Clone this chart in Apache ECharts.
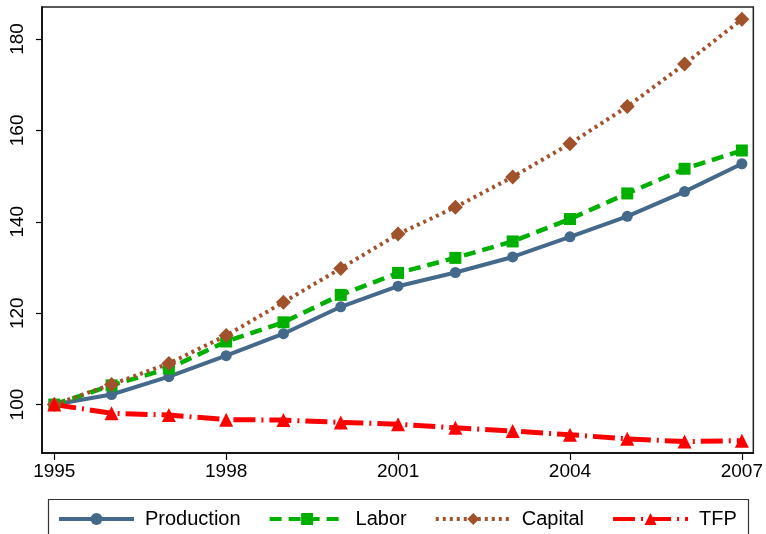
<!DOCTYPE html>
<html>
<head>
<meta charset="utf-8">
<script src="https://cdn.jsdelivr.net/npm/echarts@6/dist/echarts.min.js"></script>
<style>
  html, body { margin: 0; padding: 0; background: #fff; }
  #chart { width: 766px; height: 534px; }
</style>
</head>
<body>
<div id="chart"></div>
<script>
const years = [1995, 1996, 1997, 1998, 1999, 2000, 2001, 2002, 2003, 2004, 2005, 2006, 2007];
const production = [100, 102.2, 106.1, 110.7, 115.5, 121.4, 125.9, 128.9, 132.3, 136.7, 141.2, 146.6, 152.7];
const labor = [100, 104.2, 107.9, 113.8, 118.0, 124.0, 128.8, 132.1, 135.7, 140.6, 146.2, 151.6, 155.6];
const capital = [100, 104.4, 109.0, 115.1, 122.4, 129.8, 137.3, 143.2, 149.8, 157.1, 165.2, 174.5, 184.3];
const tfp = [100, 98.1, 97.7, 96.7, 96.6, 96.1, 95.7, 94.9, 94.2, 93.4, 92.5, 91.9, 92.1];
const xTicks = [1995, 1998, 2001, 2004, 2007];
const yTicks = [100, 120, 140, 160, 180];

const font = '"Liberation Sans", Arial, sans-serif';
const pairs = vals => years.map((y, i) => [y, vals[i]]);

const chart = echarts.init(document.getElementById('chart'));

const series = [
    {
        name: 'Production',
        data: pairs(production),
        color: '#44698a',
        lineStyle: { width: 4, type: 'solid' },
        symbol: 'circle',
        symbolSize: 11
    },
    {
        name: 'Labor',
        data: pairs(labor),
        color: '#00b000',
        lineStyle: { width: 4.5, type: [12, 7] },
        symbol: 'rect',
        symbolSize: 12
    },
    {
        name: 'Capital',
        data: pairs(capital),
        color: '#a0522d',
        lineStyle: { width: 4, type: [3, 4] },
        symbol: 'diamond',
        symbolSize: 15
    },
    {
        name: 'TFP',
        data: pairs(tfp),
        color: '#ff0000',
        lineStyle: { width: 5, type: [22, 6, 2, 6] },
        symbol: 'triangle',
        symbolSize: 14
    }
].map(s => ({
    type: 'line',
    showSymbol: true,
    animation: false,
    itemStyle: { color: s.color },
    ...s,
    lineStyle: { color: s.color, cap: 'butt', ...s.lineStyle }
}));

const option = {
    animation: false,
    backgroundColor: '#fff',
    grid: {
        left: 42,
        right: 11,
        top: 7,
        bottom: 81,
        show: true,
        borderColor: '#222',
        borderWidth: 1.5,
        containLabel: false
    },
    xAxis: {
        type: 'value',
        min: 1994.786,
        max: 2007.2,
        axisLine: { show: true, lineStyle: { color: '#000', width: 1.5 } },
        axisTick: { show: true, length: 7, customValues: xTicks, lineStyle: { color: '#000', width: 1.2 } },
        axisLabel: {
            customValues: xTicks,
            color: '#000',
            fontFamily: font,
            fontSize: 19,
            margin: 9,
            formatter: v => String(v)
        },
        splitLine: { show: false }
    },
    yAxis: {
        type: 'value',
        min: 89.4,
        max: 187,
        axisLine: { show: true, lineStyle: { color: '#000', width: 1.5 } },
        axisTick: { show: true, length: 6, customValues: yTicks, lineStyle: { color: '#000', width: 1.2 } },
        axisLabel: {
            customValues: yTicks,
            rotate: 90,
            color: '#000',
            fontFamily: font,
            fontSize: 19,
            margin: 15
        },
        splitLine: { show: false }
    },
    legend: {
        left: 57,
        top: 509,
        padding: 0,
        itemWidth: 75,
        itemHeight: 15,
        itemGap: 27,
        lineStyle: { width: 4 },
        textStyle: {
            color: '#000',
            fontFamily: font,
            fontSize: 20,
            lineHeight: 20,
            padding: [0, 0, 0, 6]
        },
        data: ['Production', 'Labor', 'Capital', 'TFP']
    },
    graphic: [
        {
            type: 'rect',
            silent: true,
            shape: { x: 48.5, y: 499.5, width: 700, height: 44 },
            style: { fill: 'none', stroke: '#333', lineWidth: 1.2 }
        }
    ],
    series: series
};

chart.setOption(option);
</script>
</body>
</html>
